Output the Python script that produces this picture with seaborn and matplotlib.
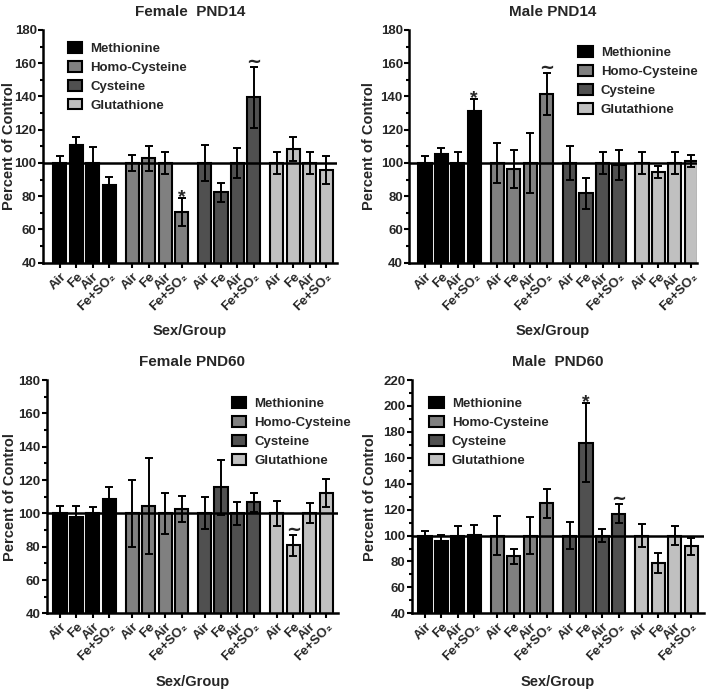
import numpy as np
import pandas as pd
import seaborn as sns
import matplotlib.pyplot as plt
from matplotlib.patches import Patch
from matplotlib.ticker import MultipleLocator

sns.set_style('ticks')
plt.rcParams['font.family'] = ['Liberation Sans', 'DejaVu Sans']
plt.rcParams['font.weight'] = 'bold'

amino = ['Methionine', 'Homo-Cysteine', 'Cysteine', 'Glutathione']
groups = ['Air', 'Fe', 'Air', 'Fe+SO\u2082']
colors = ['#000000', '#808080', '#505050', '#c0c0c0']

# 16 bars per panel: 4 amino acids x (Air, Fe, Air, Fe+SO2), mean and SEM
f14_mean = [100, 110.6, 100, 87.0, 100, 102.8, 100, 70.3, 100, 82.4, 100, 139.5, 100, 108.6, 100, 95.8]
f14_err = [4.4, 4.8, 9.4, 4.8, 4.8, 7.6, 6.4, 8.4, 11.0, 5.6, 8.8, 18.5, 6.4, 7.2, 6.8, 8.6]
m14_mean = [100, 105.4, 100, 131.3, 100, 96.4, 100, 141.5, 100, 81.8, 100, 98.8, 100, 94.8, 100, 100.9]
m14_err = [4.0, 3.8, 6.4, 7.0, 11.8, 11.4, 17.8, 12.9, 10.4, 9.3, 6.7, 8.8, 6.7, 3.6, 6.6, 3.6]
f60_mean = [100, 97.6, 100, 108.4, 100, 104.2, 100, 102.7, 100, 115.8, 100, 106.6, 100, 80.8, 100, 112.2]
f60_err = [4.6, 7.0, 3.8, 7.4, 20.0, 28.8, 12.4, 7.6, 9.6, 16.5, 7.0, 5.8, 7.5, 6.3, 6.0, 8.6]
m60_mean = [100, 95.5, 100, 100.3, 100, 84.0, 100, 124.8, 100, 171.8, 100, 117.0, 100, 78.8, 100, 91.6]
m60_err = [3.9, 5.3, 7.0, 8.2, 15.2, 5.8, 14.0, 11.2, 10.2, 30.6, 5.2, 7.6, 8.6, 8.0, 7.6, 6.5]

# significance marks: (bar index, symbol)
f14_marks = [(7, '*'), (11, '~')]
m14_marks = [(3, '*'), (7, '~')]
f60_marks = [(13, '~')]
m60_marks = [(9, '*'), (11, '~')]

pos = np.array([g * 4.4 + i for g in range(4) for i in range(4)])

fig = plt.figure(figsize=(7.08, 6.91), dpi=100)

panels = [
    # rect, mean, err, marks, title, ymax, xlim, legend anchor, ylabel x
    ([0.0607, 0.6198, 0.4153, 0.3368], f14_mean, f14_err, f14_marks, 'Female  PND14', 180, (-1.03, 16.86), (0.085, 0.95), -0.092),
    ([0.5777, 0.6198, 0.4068, 0.3368], m14_mean, m14_err, m14_marks, 'Male PND14', 180, (-0.97, 16.55), (0.588, 0.93), -0.115),
    ([0.0660, 0.1124, 0.4110, 0.3376], f60_mean, f60_err, f60_marks, 'Female PND60', 180, (-0.81, 16.90), (0.636, 0.926), -0.102),
    ([0.5815, 0.1124, 0.4128, 0.3376], m60_mean, m60_err, m60_marks, 'Male  PND60', 220, (-0.81, 16.98), (0.06, 0.928), -0.119),
]

for rect, mean, err, marks, title, ymax, xlim, leg, ylab_x in panels:
    ax = fig.add_axes(rect)
    df = pd.DataFrame({'pos': pos, 'value': mean, 'amino': np.repeat(amino, 4)})
    sns.barplot(data=df, x='pos', y='value', hue='amino', hue_order=amino, palette=colors,
                native_scale=True, dodge=False, width=0.8, edgecolor='black', linewidth=1.5,
                saturation=1, legend=False, ax=ax)
    ax.errorbar(pos, mean, yerr=err, fmt='none', ecolor='black', elinewidth=1.4,
                capsize=3, capthick=1.4, zorder=3)
    ax.axhline(100, color='black', lw=1.8, zorder=4)

    for idx, sym in marks:
        top = mean[idx] + err[idx]
        if sym == '*':
            ax.annotate(sym, (pos[idx], top), xytext=(0, -3), textcoords='offset points',
                        ha='center', va='baseline', fontsize=14, fontweight='bold')
        else:
            ax.annotate(sym, (pos[idx], top), xytext=(0, 0), textcoords='offset points',
                        ha='center', va='baseline', fontsize=13, fontweight='bold',
                        family='DejaVu Sans')

    ax.set_xlim(*xlim)
    ax.set_ylim(40, ymax)
    ax.yaxis.set_major_locator(MultipleLocator(20))
    ax.yaxis.set_minor_locator(MultipleLocator(10))
    ax.set_xticks(pos)
    ax.set_xticklabels(groups * 4, rotation=45, ha='right', rotation_mode='anchor',
                       fontsize=9.5, fontweight='bold')
    for lab in ax.get_yticklabels():
        lab.set_fontsize(9.5)
        lab.set_fontweight('bold')
    ax.tick_params(axis='both', which='major', length=3.5, width=1.5, color='black')
    ax.tick_params(axis='y', which='major', pad=1)
    ax.tick_params(axis='x', which='major', pad=2)
    ax.tick_params(axis='y', which='minor', length=2, width=1.5, color='black')
    for s in ['left', 'bottom']:
        ax.spines[s].set_linewidth(1.8)
        ax.spines[s].set_color('black')
    sns.despine(ax=ax)

    ax.set_title(title, fontsize=11, fontweight='bold', pad=10)
    ax.set_ylabel('Percent of Control', fontsize=10.5, fontweight='bold')
    ax.set_xlabel('Sex/Group', fontsize=10.5, fontweight='bold')
    ax.yaxis.set_label_coords(ylab_x, 0.5)
    ax.xaxis.set_label_coords(0.5, -0.265)

    handles = [Patch(facecolor=c, edgecolor='black', linewidth=1.5) for c in colors]
    ax.legend(handles, amino, loc='upper left', bbox_to_anchor=leg, frameon=False,
              borderpad=0, borderaxespad=0, handlelength=1.1, handleheight=0.9,
              handletextpad=0.6, labelspacing=0.45, prop={'size': 9.5, 'weight': 'bold'})

fig.savefig('out.png', dpi=100)
